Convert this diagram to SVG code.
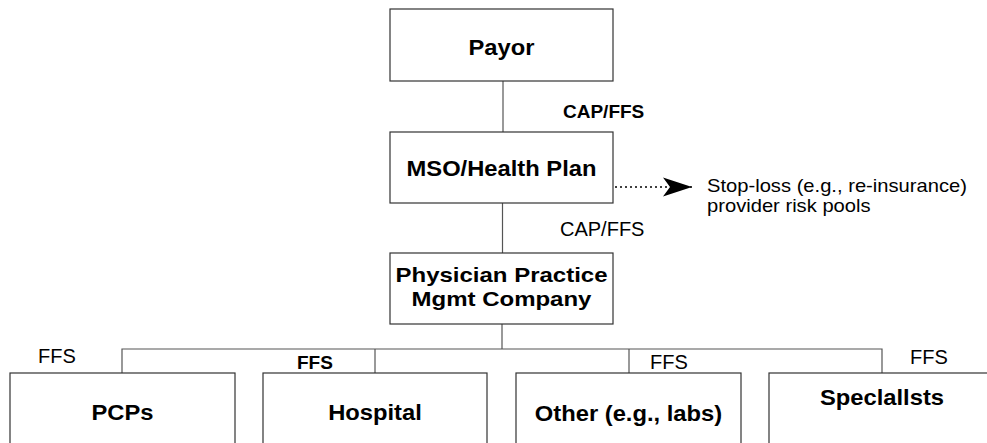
<svg xmlns="http://www.w3.org/2000/svg" width="987" height="443" viewBox="0 0 987 443">
<style>
.box{fill:#fff;stroke:#333;stroke-width:1.2}
.ln{fill:none;stroke:#555;stroke-width:1.2}
.t{font-family:"Liberation Sans",Arial,sans-serif;fill:#000}
.b{font-weight:bold;font-size:22px;text-anchor:middle}
.r{font-size:20px}
.s{font-size:18px}
.rb{font-weight:bold;font-size:19px}
</style>
<defs>
<marker id="ah" markerUnits="userSpaceOnUse" markerWidth="32" markerHeight="22" refX="29" refY="10" orient="auto" viewBox="0 0 32 22">
<path d="M0,0.5 L29,10 L0,19.5 L7,10 Z" fill="#000"/>
</marker>
</defs>
<rect width="987" height="443" fill="#fff"/>
<g id="connectors">
<line class="ln" x1="503" y1="81" x2="503" y2="132"/>
<line class="ln" x1="502.5" y1="203" x2="502.5" y2="253"/>
<line class="ln" x1="502" y1="324" x2="502" y2="349"/>
<polyline class="ln" points="122,373 122,349 882,349 882,373"/>
<line class="ln" x1="375" y1="349" x2="375" y2="373"/>
<line class="ln" x1="629" y1="349" x2="629" y2="373"/>
<line x1="615" y1="187" x2="692" y2="187" stroke="#000" stroke-width="1.5" stroke-dasharray="2,3" marker-end="url(#ah)"/>
<text class="t rb" x="563" y="118">CAP/FFS</text>
<text class="t r" x="560" y="236">CAP/FFS</text>
<text class="t r" x="38" y="363">FFS</text>
<text class="t rb" x="297" y="369">FFS</text>
<text class="t r" x="650" y="369">FFS</text>
<text class="t r" x="910" y="364">FFS</text>
</g>
<g id="payor">
<rect class="box" x="390" y="9" width="223" height="72"/>
<text class="t b" transform="matrix(1.08,0,0,1,501.5,0)" x="0" y="55">Payor</text>
</g>
<g id="mso">
<rect class="box" x="390" y="132" width="223" height="71"/>
<text class="t b" transform="matrix(1.08,0,0,1,501.5,0)" x="0" y="176">MSO/Health Plan</text>
</g>
<g id="stoploss">
<text class="t s" transform="matrix(1.12,0,0,1,707,0)" x="0" y="192">Stop-loss (e.g., re-insurance)</text>
<text class="t s" transform="matrix(1.12,0,0,1,707,0)" x="0" y="212">provider risk pools</text>
</g>
<g id="ppmc">
<rect class="box" x="390" y="253" width="223" height="71"/>
<text class="t b" style="font-size:20px" transform="matrix(1.2,0,0,1,501.5,0)" x="0" y="282">Physician Practice</text>
<text class="t b" style="font-size:20px" transform="matrix(1.2,0,0,1,501.5,0)" x="0" y="306">Mgmt Company</text>
</g>
<g id="pcps">
<rect class="box" x="10" y="373" width="225" height="80"/>
<text class="t b" transform="matrix(1.08,0,0,1,122.5,0)" x="0" y="420">PCPs</text>
</g>
<g id="hospital">
<rect class="box" x="263" y="373" width="224" height="80"/>
<text class="t b" transform="matrix(1.08,0,0,1,375,0)" x="0" y="420">Hospital</text>
</g>
<g id="other">
<rect class="box" x="516" y="373" width="225" height="80"/>
<text class="t b" transform="matrix(1.08,0,0,1,628.5,0)" x="0" y="421">Other (e.g., labs)</text>
</g>
<g id="specialists">
<rect class="box" x="769" y="373" width="225" height="80"/>
<text class="t b" transform="matrix(1.08,0,0,1,882,0)" x="0" y="405">Speclallsts</text>
</g>
</svg>
